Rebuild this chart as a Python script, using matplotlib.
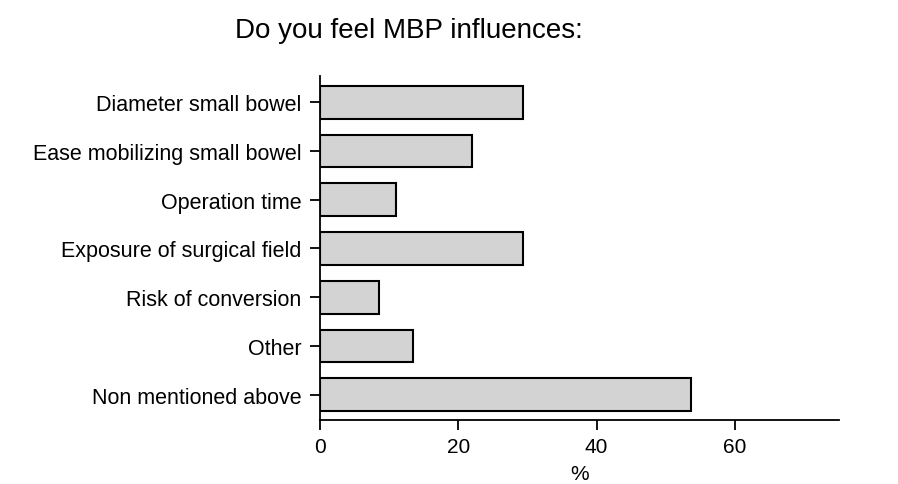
import matplotlib
matplotlib.use("Agg")
import matplotlib.pyplot as plt

categories = [
    "Diameter small bowel",
    "Ease mobilizing small bowel",
    "Operation time",
    "Exposure of surgical field",
    "Risk of conversion",
    "Other",
    "Non mentioned above",
]
percent = [29.3, 22.0, 11.0, 29.3, 8.5, 13.4, 53.7]
x_ticks = [0, 20, 40, 60]

plt.rcParams["font.family"] = ["Liberation Sans", "DejaVu Sans"]

fig = plt.figure(figsize=(8.98, 4.85), dpi=100)
ax = fig.add_axes([0.3563, 0.132, 0.934 - 0.3563, 0.8412 - 0.132])

pos = list(range(len(categories)))
ax.barh(pos, percent, height=0.67, color="#d3d3d3", edgecolor="black", linewidth=1.5)

ax.set_xlim(0, 75)
ax.set_ylim(6.52, -0.54)
ax.set_yticks(pos)
ax.set_yticklabels(categories, fontsize=15.5)
ax.set_xticks(x_ticks)
ax.set_xticklabels([str(t) for t in x_ticks], fontsize=15)
ax.tick_params(axis="both", direction="out", length=7.5, width=1.3)
ax.tick_params(axis="y", pad=6)
ax.tick_params(axis="x", pad=5)
ax.set_xlabel("%", fontsize=15, labelpad=5.5)

for side in ("top", "right"):
    ax.spines[side].set_visible(False)
for side in ("left", "bottom"):
    ax.spines[side].set_linewidth(1.3)

fig.text(0.455, 0.936, "Do you feel MBP influences:", fontsize=20, ha="center", va="center")

fig.savefig("out.png", dpi=100)
